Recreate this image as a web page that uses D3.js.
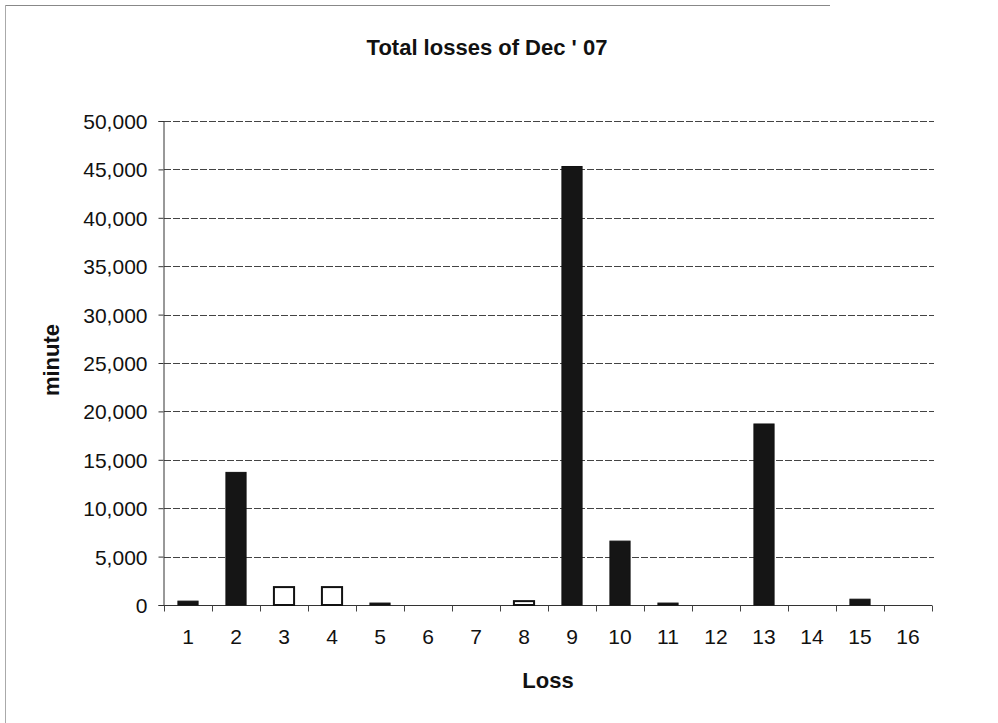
<!DOCTYPE html>
<html>
<head>
<meta charset="utf-8">
<script src="https://cdn.jsdelivr.net/npm/d3@7"></script>
<style>
  html, body { margin: 0; padding: 0; background: #fff; }
  svg { display: block; font-family: Arial, "Liberation Sans", sans-serif; }
</style>
</head>
<body>
<svg id="chart" width="998" height="723"></svg>
<script>
// Loss categories and total minutes lost for each
const categories = ["1","2","3","4","5","6","7","8","9","10","11","12","13","14","15","16"];
const minutes = [400, 13700, 1850, 1850, 200, 0, 0, 400, 45300, 6600, 200, 0, 18700, 0, 600, 0];
// Categories drawn as outlined (unfilled) bars
const outlined = ["3","4","8"];
const yTicks = [0, 5000, 10000, 15000, 20000, 25000, 30000, 35000, 40000, 45000, 50000];

const svg = d3.select("#chart");
const W = 998, H = 723;
const m = { left: 164, right: 66, top: 121, bottom: 118 };
const plotW = W - m.left - m.right;
const plotH = H - m.top - m.bottom;

// Background and chart frame (top and left edges)
svg.append("rect").attr("x", 0).attr("y", 0).attr("width", W).attr("height", H).attr("fill", "#fff");
svg.append("line").attr("x1", 5).attr("x2", 830).attr("y1", 5.5).attr("y2", 5.5)
  .attr("stroke", "#888").attr("stroke-width", 1);
svg.append("line").attr("x1", 5.5).attr("x2", 5.5).attr("y1", 5).attr("y2", H)
  .attr("stroke", "#aaa").attr("stroke-width", 1);

const x = d3.scaleBand().domain(categories).range([m.left, m.left + plotW]).paddingInner(0.58).paddingOuter(0.29);
const xBound = d3.scaleBand().domain(categories).range([m.left, m.left + plotW]);
const y = d3.scaleLinear().domain([0, 50000]).range([m.top + plotH, m.top]);

// Horizontal gridlines
svg.append("g").selectAll("line").data(yTicks.filter(d => d > 0)).join("line")
  .attr("x1", m.left).attr("x2", m.left + plotW + 2)
  .attr("y1", d => Math.round(y(d)) + 0.5).attr("y2", d => Math.round(y(d)) + 0.5)
  .attr("stroke", "#444").attr("stroke-width", 1).attr("stroke-dasharray", "7,2");

// Y axis
const yAxis = svg.append("g").attr("transform", `translate(${m.left - 0.5},0)`)
  .call(d3.axisLeft(y).tickValues(yTicks).tickFormat(d3.format(",")).tickSize(5).tickPadding(11));
yAxis.select(".domain").attr("stroke", "#333");
yAxis.selectAll(".tick line").attr("stroke", "#333");
yAxis.selectAll("text").attr("font-size", 21).attr("fill", "#111").attr("dy", "0.36em");

// X axis with ticks at category boundaries
const xAxisG = svg.append("g").attr("transform", `translate(0,${Math.round(y(0)) + 0.5})`);
xAxisG.append("line").attr("x1", m.left).attr("x2", m.left + plotW).attr("stroke", "#333");
xAxisG.selectAll("line.b").data(categories.concat(["end"])).join("line").attr("class", "b")
  .attr("x1", (d, i) => Math.round(m.left + i * xBound.step()) + 0.5)
  .attr("x2", (d, i) => Math.round(m.left + i * xBound.step()) + 0.5)
  .attr("y1", 0).attr("y2", 6).attr("stroke", "#444");
xAxisG.selectAll("text").data(categories).join("text")
  .attr("x", d => xBound(d) + xBound.bandwidth() / 2)
  .attr("y", 38).attr("text-anchor", "middle").attr("font-size", 21).attr("fill", "#111")
  .text(d => d);

// Bars
svg.append("g").selectAll("rect").data(categories).join("rect")
  .attr("x", d => x(d))
  .attr("width", x.bandwidth())
  .attr("y", (d, i) => y(minutes[i]))
  .attr("height", (d, i) => y(0) - y(minutes[i]))
  .attr("fill", d => outlined.includes(d) ? "#fff" : "#151515")
  .attr("stroke", "#111")
  .attr("stroke-width", d => outlined.includes(d) ? 2 : 1);

// Titles
svg.append("text").attr("x", 487).attr("y", 55).attr("text-anchor", "middle")
  .attr("font-size", 22).attr("font-weight", "bold").attr("fill", "#111").text("Total losses of Dec ' 07");
svg.append("text").attr("x", 548).attr("y", 688).attr("text-anchor", "middle")
  .attr("font-size", 22).attr("font-weight", "bold").attr("fill", "#111").text("Loss");
svg.append("text").attr("transform", "translate(59,360) rotate(-90)").attr("text-anchor", "middle")
  .attr("font-size", 22).attr("font-weight", "bold").attr("fill", "#111").text("minute");
</script>
</body>
</html>
